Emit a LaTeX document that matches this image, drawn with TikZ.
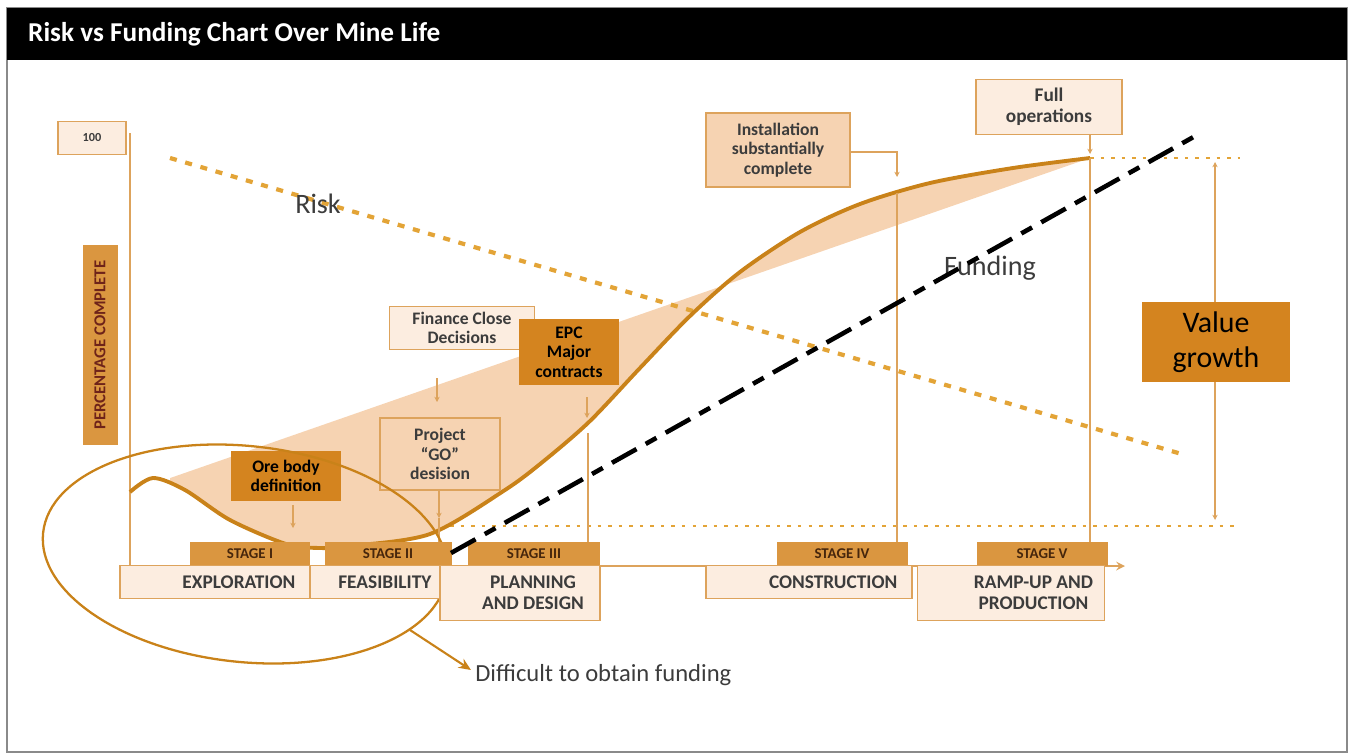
\documentclass[tikz,border=0pt]{standalone}
\usepackage{fontspec}
\setmainfont{Carlito}
\usetikzlibrary{positioning,arrows.meta}
\definecolor{curveorange}{RGB}{201,130,25}
\definecolor{riskorange}{RGB}{227,164,55}
\definecolor{lineorange}{RGB}{221,163,92}
\definecolor{palefill}{RGB}{252,237,224}
\definecolor{peachfill}{RGB}{246,211,178}
\definecolor{darkfill}{RGB}{212,132,31}
\definecolor{tabfill}{RGB}{218,150,64}
\definecolor{greytext}{RGB}{60,60,60}
\definecolor{darkbrown}{RGB}{70,38,12}
\definecolor{redbrown}{RGB}{110,35,25}
\definecolor{framegrey}{RGB}{138,138,138}
\tikzset{
  box/.style={draw=lineorange, line width=0.8pt, align=center, inner sep=0pt,
    text=greytext, font=\bfseries\fontsize{10}{11}\selectfont},
  palebox/.style={box, fill=palefill},
  peachbox/.style={box, fill=peachfill},
  darkbox/.style={box, fill=darkfill, draw=darkfill, text=black},
  stagetab/.style={fill=tabfill, inner sep=0pt, minimum height=4.8mm,
    text=darkbrown, font=\bfseries\fontsize{8.5}{9}\selectfont},
  namebox/.style={palebox, minimum height=6.6mm},
  nametext/.style={text=greytext, align=center, inner sep=0pt,
    font=\bfseries\fontsize{11}{12}\selectfont},
  bigtext/.style={text=greytext, inner sep=0pt, font=\fontsize{16}{18}\selectfont},
  riskdots/.style={riskorange, line width=2.4pt, dash pattern=on 4pt off 5pt},
  funddash/.style={black, line width=2.6pt, dash pattern=on 16pt off 6pt on 7pt off 6pt},
  thindots/.style={riskorange, line width=1pt, dash pattern=on 2pt off 4pt},
  guide/.style={lineorange, line width=1.2pt},
  tip/.style={->, lineorange, line width=0.7pt, >={Stealth[length=3pt,width=3pt]}}
}
\begin{document}
\begin{tikzpicture}[x=0.2mm,y=-0.2mm,>=stealth]
\useasboundingbox (0,0) rectangle (1354,754);
% frame
\draw[framegrey, line width=1.2pt] (7,8) rectangle (1347,752);
% shaded band between curve and straight line
\begin{scope}
\clip (170,100) rectangle (1100,600);
\fill[peachfill] plot[smooth] coordinates {(130,492) (153,478) (185,490) (230,520) (286,544) (320,548) (350,546) (430,534) (505,490) (545,460) (590,421) (640,368) (690,316) (740,272) (800,232) (860,204) (930,183) (1013,168) (1090,158)} -- cycle;
\end{scope}
% axes
\draw[guide, ->] (130,566) -- (1125,566);
\draw[guide] (130,133) -- (130,566);
% dotted levels
\draw[thindots] (1090,158) -- (1240,158);
\draw[thindots] (450,526) -- (1240,526);
% risk
\draw[riskdots] (170,158) -- (1185,455);
\node[bigtext] (risk) at (318,204) {Risk};
% s-curve
\draw[curveorange, line width=2.2pt] plot[smooth] coordinates {(130,492) (153,478) (185,490) (230,520) (286,544) (320,548) (350,546) (430,534) (505,490) (545,460) (590,421) (640,368) (690,316) (740,272) (800,232) (860,204) (930,183) (1013,168) (1090,158)};
% boxes
\node[palebox, minimum width=13.6mm, minimum height=6.6mm, font=\bfseries\fontsize{7}{8}\selectfont] (hundred) at (92,138) {100};
\node[rotate=90, fill=tabfill, inner sep=0pt, minimum width=40mm, minimum height=7mm, text=redbrown, font=\bfseries\fontsize{9.5}{10}\selectfont] (pct) at (100,345) {PERCENTAGE COMPLETE};
\node[palebox, minimum width=29mm, minimum height=8.6mm] (finance) at (462,328) {Finance Close\\Decisions};
\node[darkbox, minimum width=19.6mm, minimum height=12.8mm] (epc) at (569,352) {EPC\\Major\\contracts};
\node[peachbox, minimum width=24mm, minimum height=14.4mm] (golive) at (440,454) {Project\\``GO''\\desision};
\node[darkbox, minimum width=21.6mm, minimum height=9.6mm] (orebody) at (286,476) {Ore body\\definition};
\node[peachbox, minimum width=28.8mm, minimum height=14.8mm] (install) at (778,150) {Installation\\substantially\\complete};
\node[palebox, minimum width=29.2mm, minimum height=11mm, font=\bfseries\fontsize{11}{12}\selectfont] (fullop) at (1049,107) {Full\\operations};
% markers
\coordinate (finend) at (437,402);
\draw[tip] (437,378) -- (finend);
\coordinate (epcend) at (587,418);
\draw[tip] (587,397) -- (epcend);
\draw[guide] (588,433) -- (588,542);
\coordinate (oreend) at (293,528);
\draw[tip] (293,505) -- (oreend);
\coordinate (goend) at (439,518);
\draw[tip] (golive.south -| goend) -- (goend);
\draw[guide] (goend) -- (439,542);
\coordinate (instend) at (897,177);
\draw[tip] (install.east |- 0,152) -| (instend);
\draw[guide] (897,193) -- (897,542);
\coordinate (fullend) at (1090,154);
\draw[tip] (fullop.south -| fullend) -- (fullend);
\draw[guide] (1090,158) -- (1090,542);
% value growth
\draw[tip, <->] (1215,162) -- (1215,520);
\node[darkbox, minimum width=29.4mm, minimum height=15.8mm, font=\fontsize{17}{20}\selectfont] (value) at (1216,342) {Value\\growth};
% difficult zone
\draw[curveorange, line width=1.3pt, rotate around={-6:(245,554)}] (245,554) ellipse [x radius=203, y radius=108];
\node[bigtext, anchor=west, font=\fontsize{14}{16}\selectfont] (diff) at (475,675) {Difficult to obtain funding};
\coordinate (ellpt) at (410,630);
\draw[->, curveorange, line width=1.2pt, >={Stealth[length=7pt,width=6pt]}] (ellpt) -- ([xshift=-0.8mm,yshift=1mm]diff.west);
% stages
\node[stagetab, minimum width=24mm] (s1) at (250,554) {STAGE I};
\node[stagetab, minimum width=25.4mm] (s2) at (388,554) {STAGE II};
\node[stagetab, minimum width=26.4mm] (s3) at (534,554) {STAGE III};
\node[stagetab, minimum width=26.2mm] (s4) at (842,554) {STAGE IV};
\node[stagetab, minimum width=26.2mm] (s5) at (1042,554) {STAGE V};
\node[namebox, minimum width=38mm] (expl) at (215,582) {};
\node[namebox, minimum width=26mm] (feas) at (375,582) {};
\node[namebox, minimum width=32mm, minimum height=11mm] (plan) at (520,593) {};
\node[namebox, minimum width=41.2mm] (cons) at (809,582) {};
\node[namebox, minimum width=37.4mm, minimum height=11mm] (ramp) at (1011,593) {};
\node[nametext, anchor=east] at ([xshift=-3mm]expl.east) {EXPLORATION};
\node[nametext, anchor=east] at ([xshift=-1.8mm]feas.east) {FEASIBILITY};
\node[nametext] at ([xshift=2.6mm]plan.center) {PLANNING\\AND DESIGN};
\node[nametext, anchor=east] at ([xshift=-3mm]cons.east) {CONSTRUCTION};
\node[nametext] at ([xshift=4.5mm]ramp.center) {RAMP-UP AND\\PRODUCTION};
% funding
\node[bigtext] (funding) at (990,268) {Funding};
\draw[funddash] (451,553) -- (1197,135);
% title bar
\fill[black] (7,8) rectangle (1347,60);
\node[anchor=west, text=white, font=\bfseries\fontsize{15.5}{17}\selectfont] (title) at (22,34) {Risk vs Funding Chart Over Mine Life};
\end{tikzpicture}
\end{document}
